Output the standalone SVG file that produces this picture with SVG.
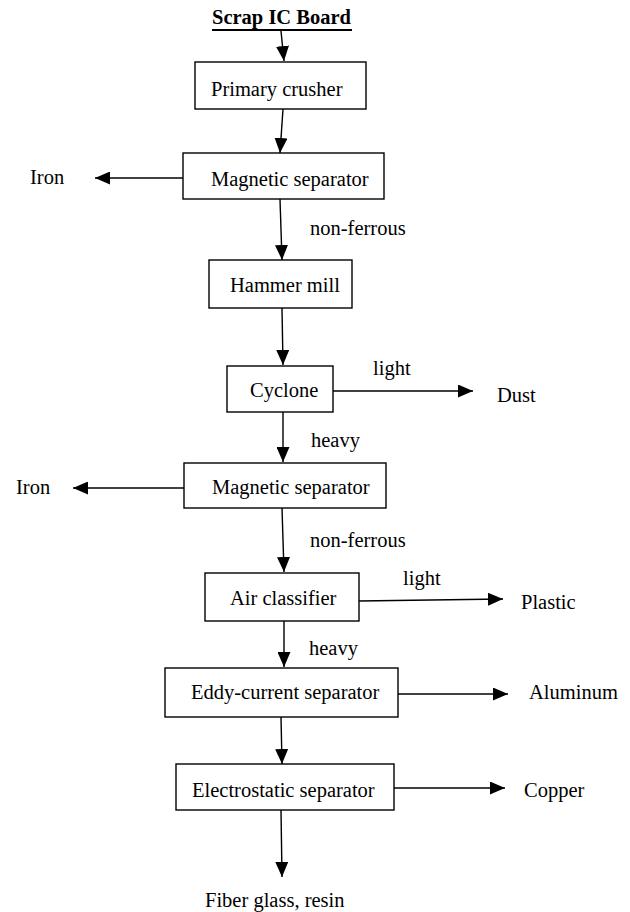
<svg xmlns="http://www.w3.org/2000/svg" width="630" height="912" viewBox="0 0 630 912" font-family="Liberation Serif, Times New Roman, serif" font-size="20.5">
<style>
  text { font-family: "Liberation Serif", "Times New Roman", serif; font-size: 20.5px; fill: #000; }
  .title { font-weight: bold; }
  .box { fill: #fff; stroke: #000; stroke-width: 1.4; }
  .conn { fill: none; stroke: #000; stroke-width: 1.4; marker-end: url(#arr); }
</style>
<defs>
  <marker id="arr" markerUnits="userSpaceOnUse" markerWidth="15" markerHeight="13" refX="15" refY="6.5" orient="auto">
    <path d="M0,0 L15,6.5 L0,13 z" fill="#000"/>
  </marker>
</defs>
<rect width="630" height="912" fill="#fff"/>

<g id="title">
  <text class="title" x="212" y="24">Scrap IC Board</text>
  <rect x="212" y="29" width="140" height="2" fill="#000"/>
</g>

<g id="connectors">
  <path class="conn" d="M281,31 L284,61"/>
  <path class="conn" d="M283,109 L280,153"/>
  <path class="conn" d="M280,199 L282,260"/>
  <path class="conn" d="M282,308 L283,365"/>
  <path class="conn" d="M283,412 L283,462"/>
  <path class="conn" d="M282,508 L284,572"/>
  <path class="conn" d="M284,621 L284,667"/>
  <path class="conn" d="M281,717 L282,764"/>
  <path class="conn" d="M281,810 L282,877"/>
  <path class="conn" d="M183,178 L95,178"/>
  <path class="conn" d="M333,391 L473,391"/>
  <path class="conn" d="M184,488 L73,488"/>
  <path class="conn" d="M359,601 L503,599"/>
  <path class="conn" d="M398,694 L508,694"/>
  <path class="conn" d="M394,788 L505,788"/>
</g>

<g id="primary-crusher">
  <rect class="box" x="195" y="62" width="171" height="47"/>
  <text x="211" y="96">Primary crusher</text>
</g>
<g id="magnetic-separator-1">
  <rect class="box" x="183" y="153" width="201" height="46"/>
  <text x="211" y="186">Magnetic separator</text>
</g>
<g id="hammer-mill">
  <rect class="box" x="209" y="260" width="143" height="48"/>
  <text x="230" y="292">Hammer mill</text>
</g>
<g id="cyclone">
  <rect class="box" x="227" y="366" width="106" height="46"/>
  <text x="250" y="397">Cyclone</text>
</g>
<g id="magnetic-separator-2">
  <rect class="box" x="184" y="463" width="202" height="45"/>
  <text x="212" y="494">Magnetic separator</text>
</g>
<g id="air-classifier">
  <rect class="box" x="205" y="573" width="154" height="48"/>
  <text x="230" y="605">Air classifier</text>
</g>
<g id="eddy-current-separator">
  <rect class="box" x="165" y="668" width="233" height="49"/>
  <text x="191" y="699">Eddy-current separator</text>
</g>
<g id="electrostatic-separator">
  <rect class="box" x="176" y="764" width="218" height="46"/>
  <text x="192" y="797">Electrostatic separator</text>
</g>

<g id="outputs">
  <text x="30" y="184">Iron</text>
  <text x="16" y="494">Iron</text>
  <text x="497" y="402">Dust</text>
  <text x="521" y="609">Plastic</text>
  <text x="529" y="699">Aluminum</text>
  <text x="524" y="797">Copper</text>
  <text x="205" y="907">Fiber glass, resin</text>
</g>

<g id="labels">
  <text x="310" y="235">non-ferrous</text>
  <text x="373" y="375">light</text>
  <text x="311" y="447">heavy</text>
  <text x="310" y="547">non-ferrous</text>
  <text x="403" y="585">light</text>
  <text x="309" y="655">heavy</text>
</g>
</svg>
